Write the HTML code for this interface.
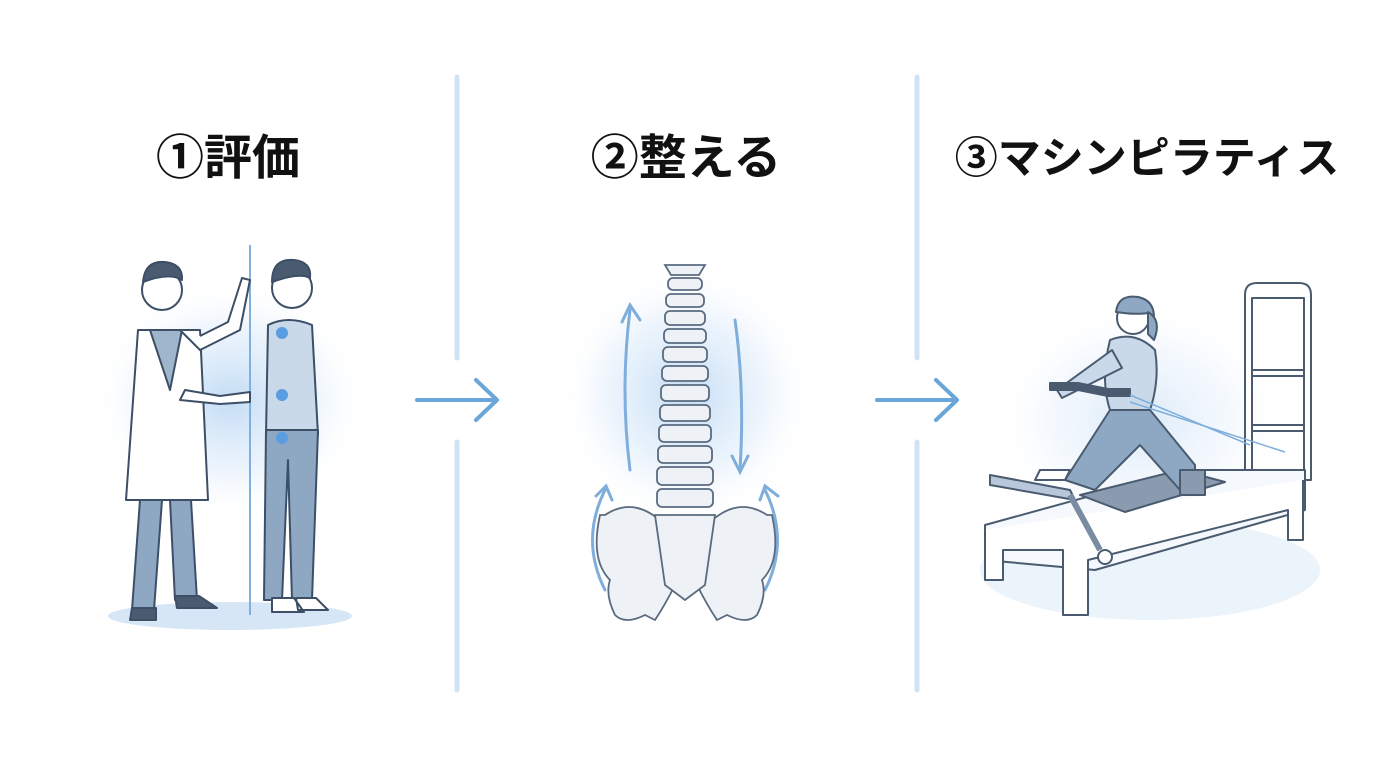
<!DOCTYPE html>
<html><head><meta charset="utf-8"><style>
html,body{margin:0;padding:0;background:#fff;width:1376px;height:768px;overflow:hidden}
svg{display:block}
text{font-family:"Liberation Sans","Noto Sans CJK JP",sans-serif;font-weight:bold;fill:#111}
</style></head><body>
<svg width="1376" height="768" viewBox="0 0 1376 768" xmlns="http://www.w3.org/2000/svg">
<defs>
<radialGradient id="g" cx="50%" cy="50%" r="50%">
<stop offset="0" stop-color="#bcd8f3" stop-opacity=".9"/>
<stop offset=".6" stop-color="#dbeafa" stop-opacity=".5"/>
<stop offset="1" stop-color="#fff" stop-opacity="0"/>
</radialGradient>
</defs>
<rect width="1376" height="768" fill="#fff"/>
<text x="228" y="174" font-size="48" text-anchor="middle">①評価</text>
<text x="686" y="174" font-size="48" text-anchor="middle">②整える</text>
<text x="1147" y="173" font-size="43" text-anchor="middle">③マシンピラティス</text>
<g stroke="#cfe3f4" stroke-width="5" stroke-linecap="round">
<line x1="457" y1="77" x2="457" y2="358"/><line x1="457" y1="442" x2="457" y2="690"/>
<line x1="917" y1="77" x2="917" y2="358"/><line x1="917" y1="442" x2="917" y2="690"/>
</g>
<g stroke="#6aa6da" stroke-width="4" fill="none" stroke-linecap="round" stroke-linejoin="round">
<line x1="417" y1="400" x2="495" y2="400"/><polyline points="476,380 497,400 476,420"/>
<line x1="877" y1="400" x2="955" y2="400"/><polyline points="936,380 957,400 936,420"/>
</g>
<!-- panel 1 -->
<ellipse cx="230" cy="400" rx="140" ry="120" fill="url(#g)"/>
<ellipse cx="230" cy="616" rx="122" ry="14" fill="#d6e6f6"/>
<line x1="250" y1="245" x2="250" y2="615" stroke="#7fb0de" stroke-width="2"/>
<g stroke="#3c4f66" stroke-width="2" stroke-linejoin="round">
<circle cx="162" cy="290" r="20" fill="#fff"/>
<path d="M143 282 q2-22 22-20 q18 2 17 18 q-12-8-39 2z" fill="#4a5b70"/>
<path d="M138 330 l-12 170 h82 l-8-170 z" fill="#fff"/>
<path d="M150 330 l20 60 l12-60z" fill="#9fb5cc"/>
<path d="M140 500 l-8 110 h22 l8-110z M170 500 l5 100 h22 l-6-100z" fill="#8ea8c4"/>
<path d="M132 608 h24 v12 h-26z M175 596 h24 l18 12 h-40z" fill="#4a5b70"/>
<path d="M180 330 l20 20 l40-20 l10-50 l-8-2 l-14 44 l-28 14" fill="#fff"/>
<path d="M185 390 l35 6 l30 -4 l0 10 l-30 2 l-40 -4z" fill="#fff"/>
<circle cx="292" cy="288" r="20" fill="#fff"/>
<path d="M272 282 q0-24 22-22 q18 2 16 18 q-10-6-38 4z" fill="#4a5b70"/>
<path d="M268 325 q20-10 44 0 l6 110 h-52z" fill="#c9d9ea"/>
<path d="M266 430 h52 l-6 170 h-20 l-4-140 l-6 140 h-18z" fill="#8ea8c4"/>
<path d="M272 598 h22 l10 14 h-32z M296 598 h20 l12 12 h-30z" fill="#fff"/>
</g>
<g fill="#5a9de0"><circle cx="282" cy="333" r="6"/><circle cx="282" cy="395" r="6"/><circle cx="282" cy="438" r="6"/></g>
<!-- panel 2 -->
<ellipse cx="686" cy="395" rx="130" ry="130" fill="url(#g)"/>
<g stroke="#7eaedb" stroke-width="3" fill="none" stroke-linecap="round">
<path d="M630 470 q-10-80 0-160"/><polyline points="622,322 630,305 640,320"/>
<path d="M735 320 q10 70 5 150"/><polyline points="732,456 740,472 748,456"/>
<path d="M605 590 q-25-50 0-100"/><polyline points="596,496 606,486 612,500"/>
<path d="M765 590 q25-50 0-100"/><polyline points="760,500 765,486 778,496"/>
</g>
<g stroke="#5a6b80" stroke-width="1.8" fill="#eef1f5">
<path d="M665 265 h40 l-6 10 h-28z"/>
<rect x="668" y="278" width="34" height="12" rx="5"/>
<rect x="666" y="294" width="38" height="13" rx="5"/>
<rect x="665" y="311" width="40" height="14" rx="5"/>
<rect x="664" y="329" width="42" height="14" rx="5"/>
<rect x="663" y="347" width="44" height="15" rx="5"/>
<rect x="662" y="366" width="46" height="15" rx="5"/>
<rect x="661" y="385" width="48" height="16" rx="5"/>
<rect x="660" y="405" width="50" height="16" rx="5"/>
<rect x="659" y="425" width="52" height="17" rx="5"/>
<rect x="658" y="446" width="54" height="17" rx="5"/>
<rect x="657" y="467" width="56" height="18" rx="5"/>
<rect x="657" y="489" width="56" height="18" rx="5"/>
<path d="M605 515 q30-20 60 10 l10 60 q-10 20 -20 35 l-10 -5 q-20 10 -30 0 q-10-20-5-35 q-20-20-10-65z"/>
<path d="M767 515 q-30-20-60 10 l-10 60 q10 20 20 35 l10 -5 q20 10 30 0 q10-20 5-35 q20-20 10-65z"/>
<path d="M655 515 h60 l-10 70 l-20 15 l-20-15z"/>
</g>
<!-- panel 3 -->
<ellipse cx="1140" cy="420" rx="150" ry="120" fill="url(#g)" opacity=".6"/>
<ellipse cx="1150" cy="570" rx="170" ry="50" fill="#e3eefa" opacity=".7"/>
<g stroke="#4a5b70" stroke-width="2" stroke-linejoin="round">
<path d="M1245 295 q0-12 12-12 h42 q12 0 12 12 v185 h-7 v-182 h-52 v182 h-7z" fill="#fff"/>
<path d="M1252 370 h52 v6 h-52z M1252 425 h52 v6 h-52z" fill="#fff"/>
<path d="M985 525 l200 -55 h120 v40 l-210 60 l-110 -10z" fill="#f5f8fc"/>
<path d="M985 530 v50 h18 v-30 h60 v65 h25 v-55 l200-50 v30 h15 v-60" fill="#fff"/>
<path d="M1080 495 l100-25 l45 12 l-100 30z" fill="#8a9bb0"/>
<path d="M990 475 l80 15 l5 10 l-85-15z" fill="#b8c8da"/>
<path d="M1070 495 l30 55" stroke-width="6" stroke="#7a8ca2"/>
<circle cx="1105" cy="557" r="7" fill="#fff"/>
<path d="M1065 480 l45-70 h40 l45 55 v25 h-15 l-40-45 l-45 45z" fill="#8ea8c4"/>
<path d="M1180 470 h25 v25 h-25z" fill="#8a9bb0"/>
<path d="M1040 470 h30 l-5 10 h-30z" fill="#fff"/>
<path d="M1110 340 q25-10 45 10 q5 30-5 60 h-40 q-10-30 0-70z" fill="#c9d9ea"/>
<path d="M1112 350 l-55 40 l5 8 l60-30z" fill="#c9d9ea"/>
<circle cx="1133" cy="318" r="16" fill="#fff"/>
<path d="M1116 312 q2-18 22-15 q20 4 15 30 l-5-14 q-12 2-32-1z" fill="#8ea8c4"/>
<path d="M1148 312 q14 8 6 28 l-6-6z" fill="#8ea8c4"/>
<path d="M1050 383 h28 l30 6 h22 v7 h-22 l-30-6 h-28z" fill="#4a5b70"/>
</g>
<g stroke="#7eaedb" stroke-width="1.5"><line x1="1130" y1="395" x2="1250" y2="445"/><line x1="1130" y1="402" x2="1285" y2="452"/></g>
</svg>
</body></html>
